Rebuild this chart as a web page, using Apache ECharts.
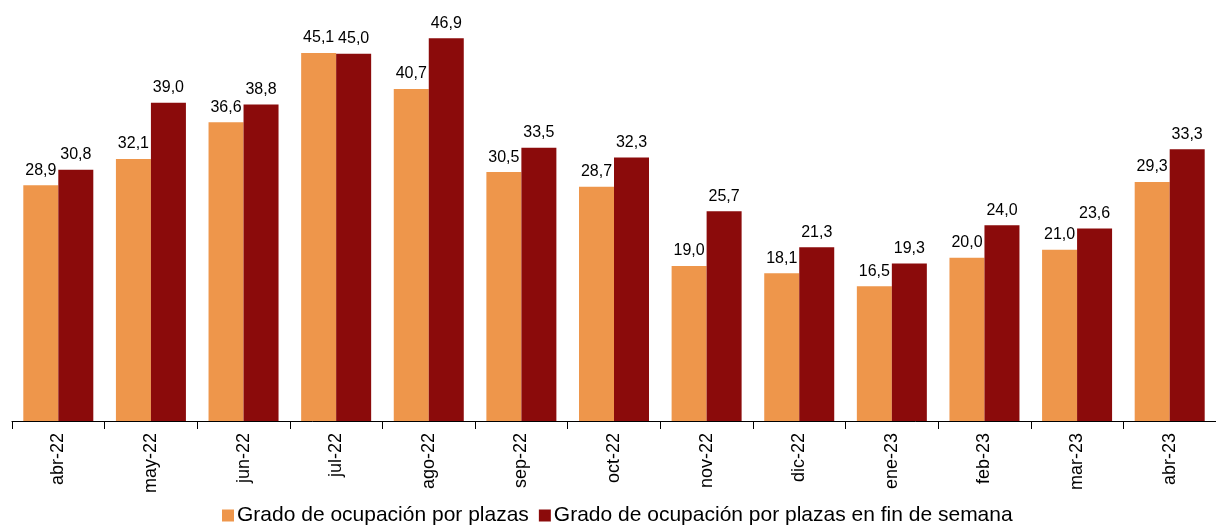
<!DOCTYPE html>
<html>
<head>
<meta charset="utf-8">
<script src="https://cdn.jsdelivr.net/npm/echarts@6/dist/echarts.min.js"></script>
<style>
html, body { margin: 0; padding: 0; background: #fff; }
#main { width: 1216px; height: 528px; }
</style>
</head>
<body>
<div id="main"></div>
<script>
var months = ['abr-22','may-22','jun-22','jul-22','ago-22','sep-22','oct-22','nov-22','dic-22','ene-23','feb-23','mar-23','abr-23'];
var plazas = [28.9, 32.1, 36.6, 45.1, 40.7, 30.5, 28.7, 19.0, 18.1, 16.5, 20.0, 21.0, 29.3];
var finSemana = [30.8, 39.0, 38.8, 45.0, 46.9, 33.5, 32.3, 25.7, 21.3, 19.3, 24.0, 23.6, 33.3];

var myChart = echarts.init(document.getElementById('main'));

function fmt(p) {
    return p.value.toFixed(1).replace('.', ',');
}

var option = {
    animation: false,
    textStyle: { fontFamily: 'Liberation Sans, Arial, sans-serif' },
    grid: { left: 12, top: 13, width: 1212, height: 408 },
    legend: {
        top: 505,
        left: 222,
        padding: 0,
        itemWidth: 12,
        itemHeight: 12,
        itemGap: 10,
        icon: 'rect',
        textStyle: { fontSize: 21, color: '#000', padding: [0, 0, 0, -2], fontFamily: 'Liberation Sans, Arial, sans-serif' },
        data: ['Grado de ocupación por plazas', 'Grado de ocupación por plazas en fin de semana']
    },
    xAxis: {
        type: 'category',
        data: months,
        axisLine: { lineStyle: { color: '#000', width: 1 } },
        axisTick: { show: true, length: 8, lineStyle: { color: '#000' } },
        axisLabel: { rotate: 90, fontSize: 18, color: '#000', margin: 12 }
    },
    yAxis: {
        type: 'value',
        min: 0,
        max: 50,
        show: false
    },
    series: [
        {
            name: 'Grado de ocupación por plazas',
            type: 'bar',
            data: plazas,
            barWidth: 35,
            barGap: '0%',
            itemStyle: { color: '#EE964B' },
            label: { show: true, position: 'top', fontSize: 16, color: '#000', formatter: fmt, distance: 7 }
        },
        {
            name: 'Grado de ocupación por plazas en fin de semana',
            type: 'bar',
            data: finSemana,
            barWidth: 35,
            itemStyle: { color: '#8B0B0B' },
            label: { show: true, position: 'top', fontSize: 16, color: '#000', formatter: fmt, distance: 7 }
        }
    ]
};

myChart.setOption(option);
</script>
</body>
</html>
